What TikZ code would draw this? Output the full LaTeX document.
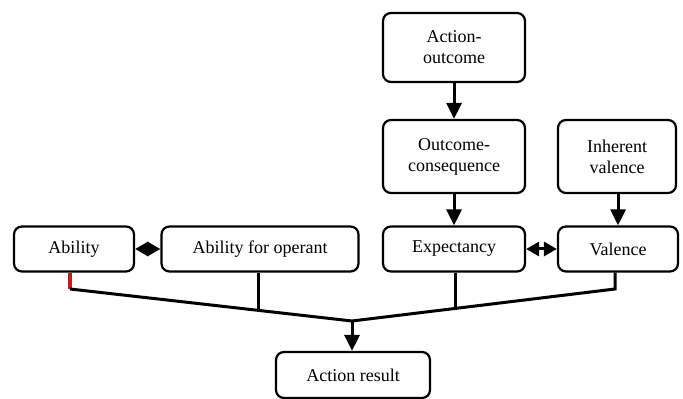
\documentclass[tikz,border=0pt]{standalone}
\usepackage{fontspec}
\setmainfont{Liberation Serif}
\usetikzlibrary{arrows.meta,calc}
\definecolor{redline}{RGB}{200,25,30}
\begin{document}
\begin{tikzpicture}[x=0.5pt,y=-0.5pt,
  box/.style={draw,line width=1.1pt,rounded corners=4pt,align=center,inner sep=0pt,font=\fontsize{9}{10.5}\selectfont},
  conn/.style={line width=1.5pt},
  arr/.style={line width=1.5pt,-{Triangle[length=8pt,width=7.5pt]}},
  darr/.style={line width=1.5pt,{Triangle[length=6.5pt,width=7pt]}-{Triangle[length=6.5pt,width=7pt]}}]
\useasboundingbox (0,0) rectangle (683,399);
\node[box,minimum width=60pt,minimum height=22.5pt] (ab) at (74,249) {Ability};
\node[box,minimum width=98.5pt,minimum height=22.5pt] (abo) at (260,249) {Ability for operant};
\node[box,minimum width=71pt,minimum height=22.5pt] (ex) at (454,249) {Expectancy};
\node[box,minimum width=60pt,minimum height=22.5pt] (va) at (618,249) {Valence};
\node[box,minimum width=71pt,minimum height=34.5pt] (ao) at (454,47.5) {Action-\\outcome};
\node[box,minimum width=71pt,minimum height=36.5pt] (oc) at (454,156.5) {Outcome-\\consequence};
\node[box,minimum width=59pt,minimum height=36.5pt] (iv) at (617,156.5) {Inherent\\valence};
\node[box,minimum width=77pt,minimum height=23pt] (ar) at (353,375) {Action result};
\coordinate (j) at (352,321);
\coordinate (cl) at (70,289);
\coordinate (cr) at (615,289);
\coordinate (pabo) at (258,310.3);
\coordinate (pex) at (455,308.5);
\draw[arr] (ao.south) -- (oc.north);
\draw[arr] (oc.south) -- (ex.north);
\draw[arr] (iv.south -| va.north) -- (va.north);
\draw[darr] (ab.east) -- (abo.west);
\draw[darr] (ex.east) -- (va.west);
\draw[line width=2pt,redline] (ab.south -| cl) -- (cl);
\draw[conn] (cl) -- (j) -- (cr) -- (va.south -| cr);
\draw[conn] (abo.south -| pabo) -- (pabo);
\draw[conn] (ex.south -| pex) -- (pex);
\draw[arr] (j) -- (ar.north -| j);
\end{tikzpicture}
\end{document}
